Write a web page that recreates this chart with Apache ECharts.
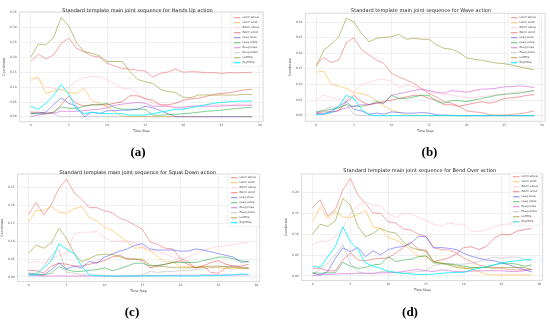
<!DOCTYPE html>
<html><head><meta charset="utf-8">
<script src="https://cdn.jsdelivr.net/npm/echarts@6/dist/echarts.min.js"></script>
<style>html,body{margin:0;padding:0;background:#fff}#c{width:550px;height:323px}</style>
</head><body><div id="c"></div>
<script>
const timeSteps = [0,1,2,3,4,5,6,7,8,9,10,11,12,13,14,15,16,17,18,19,20,21,22,23,24,25,26,27,28,29];
const jointNames = ['LArm elbow','LArm wrist','RArm elbow','RArm wrist','LLeg knee','LLeg ankle','RLeg knee','RLeg ankle','LeftHip','RightHip'];
const panelTitles = [
  'Standard template main joint sequence for Hands Up action',
  'Standard template main joint sequence for Wave action',
  'Standard template main joint sequence for Squat Down action',
  'Standard template main joint sequence for Bend Over action'
];
const panelLabels = ['(a)','(b)','(c)','(d)'];
const xTickValues = [0,5,10,15,20,25,30];
const yTicksA = [0,0.05,0.10,0.15,0.20,0.25,0.30,0.35];
const yTicksB = [0,0.05,0.10,0.15,0.20,0.25,0.30];
const yTicksC = [0,0.05,0.10,0.15,0.20,0.25];
const yTicksD = [0,0.05,0.10,0.15,0.20];

// (a) Hands Up
const handsUpLArmElbow = [0.185,0.209,0.194,0.207,0.246,0.263,0.229,0.218,0.204,0.2,0.179,0.17,0.162,0.159,0.156,0.153,0.133,0.145,0.15,0.16,0.149,0.151,0.15,0.147,0.148,0.145,0.148,0.147,0.148,0.149];
const handsUpLArmWrist = [0.129,0.131,0.078,0.087,0.092,0.081,0.078,0.095,0.054,0.045,0.034,0.017,0.002,0,0,0,0,0,0,0,0,0,0,0,0,0,0,0,0,0];
const handsUpRArmElbow = [0.12,0.13,0.10,0.095,0.09,0.10,0.12,0.13,0.135,0.133,0.125,0.11,0.095,0.095,0.08,0.06,0.045,0.04,0.035,0.035,0.035,0.035,0.038,0.04,0.04,0.04,0.04,0.042,0.042,0.042];
const handsUpRArmWrist = [0.015,0.015,0.012,0.015,0.04,0.07,0.045,0.035,0.04,0.04,0.04,0.045,0.05,0.07,0.07,0.06,0.055,0.04,0.04,0.045,0.055,0.06,0.062,0.068,0.075,0.078,0.08,0.085,0.09,0.092];
const handsUpLLegKnee = [0.01,0.012,0.015,0.04,0.063,0.045,0.035,0.0,0.015,0.01,0.02,0.02,0.022,0.022,0.025,0.035,0.03,0.02,0.01,0,0,0,0,0,0,0,0,0,0,0];
const handsUpLLegAnkle = [0.01,0.01,0.01,0.015,0.033,0.028,0.028,0.035,0.04,0.04,0.045,0.03,0.025,0.025,0.025,0.025,0.005,0.005,0.007,0.008,0.01,0.012,0.015,0.018,0.02,0.022,0.025,0.028,0.03,0.032];
const handsUpRLegKnee = [0.0,0.005,0.01,0.012,0.018,0.018,0.018,0.02,0.023,0.025,0.03,0.038,0.042,0.045,0.048,0.045,0.035,0.035,0.035,0.03,0.03,0.035,0.035,0.035,0.035,0.036,0.037,0.038,0.038,0.038];
const handsUpRLegAnkle = [0.015,0.012,0.01,0.01,0,0,0,0,0,0,0,0,0,0,0,0,0,0,0,0,0,0,0,0,0,0,0,0,0,0];
const handsUpLeftHip = [0.199,0.243,0.241,0.265,0.333,0.304,0.248,0.218,0.213,0.204,0.185,0.185,0.185,0.151,0.125,0.117,0.112,0.092,0.084,0.081,0.065,0.064,0.073,0.073,0.072,0.073,0.072,0.073,0.075,0.074];
const handsUpRightHip = [0.035,0.025,0.045,0.07,0.108,0.075,0.025,0.01,0.015,0.012,0.01,0.01,0.01,0.005,0.005,0.005,0.01,0.015,0.02,0.025,0.025,0.03,0.035,0.04,0.045,0.048,0.05,0.052,0.052,0.053];

// (b) Wave
const waveLArmElbow = [0.164,0.186,0.169,0.178,0.233,0.249,0.212,0.194,0.178,0.167,0.135,0.124,0.114,0.103,0.087,0.07,0.06,0.045,0.04,0.03,0.015,0.012,0.01,0.003,0.002,0.002,0.004,0.006,0.01,0.015];
const waveLArmWrist = [0.139,0.142,0.10,0.095,0.087,0.073,0.071,0.063,0.047,0.031,0.018,0.01,0.002,0.001,0.001,0,0,0,0,0,0,0,0,0,0,0,0,0,0,0];
const waveRArmElbow = [0.05,0.066,0.058,0.052,0.05,0.077,0.098,0.105,0.114,0.117,0.109,0.09,0.098,0.093,0.082,0.077,0.071,0.068,0.066,0.061,0.058,0.058,0.061,0.064,0.067,0.071,0.073,0.076,0.077,0.077];
const waveRArmWrist = [0.01,0.012,0.012,0.015,0.045,0.065,0.045,0.035,0.04,0.045,0.05,0.055,0.06,0.065,0.065,0.055,0.05,0.035,0.035,0.03,0.035,0.04,0.045,0.04,0.045,0.055,0.057,0.06,0.065,0.067];
const waveLLegKnee = [0.008,0.005,0.015,0.03,0.045,0.02,0.015,0.005,0.008,0.005,0.012,0.01,0.008,0.008,0.01,0.008,0.003,0.002,0.001,0,0,0,0,0,0,0,0,0,0,0];
const waveLLegAnkle = [0.013,0.016,0.02,0.025,0.035,0.03,0.03,0.035,0.045,0.04,0.065,0.055,0.055,0.06,0.065,0.065,0.045,0.04,0.048,0.048,0.045,0.05,0.055,0.06,0.065,0.068,0.07,0.072,0.076,0.081];
const waveRLegKnee = [0.005,0.005,0.01,0.018,0.025,0.03,0.035,0.035,0.04,0.04,0.065,0.07,0.075,0.08,0.085,0.08,0.075,0.072,0.08,0.078,0.075,0.08,0.085,0.085,0.088,0.092,0.093,0.095,0.093,0.09];
const waveRLegAnkle = [0.01,0.018,0.028,0.025,0.035,0.005,0,0,0,0,0,0,0,0,0,0,0,0,0,0,0,0,0,0,0,0,0,0,0,0];
const waveLeftHip = [0.156,0.21,0.228,0.252,0.311,0.30,0.263,0.236,0.247,0.25,0.252,0.26,0.244,0.247,0.244,0.244,0.226,0.215,0.212,0.202,0.185,0.18,0.177,0.172,0.168,0.166,0.162,0.156,0.151,0.147];
const waveRightHip = [0.003,0.005,0.01,0.03,0.065,0.055,0.02,0.003,0,0,0,0,0,0,0,0,0,0,0,0,0,0,0,0,0,0,0,0,0,0];

// (c) Squat Down
const squatLArmElbow = [0.175,0.209,0.173,0.203,0.248,0.274,0.236,0.217,0.194,0.194,0.185,0.18,0.164,0.157,0.145,0.133,0.098,0.091,0.08,0.078,0.051,0.042,0.025,0.03,0.012,0.01,0.025,0.03,0.025,0.025];
const squatLArmWrist = [0.153,0.187,0.185,0.198,0.181,0.178,0.191,0.197,0.166,0.157,0.138,0.13,0.114,0.098,0.08,0.082,0.073,0.056,0.042,0.042,0.028,0.028,0.026,0.03,0.026,0.026,0.023,0.022,0.024,0.024];
const squatRArmElbow = [0.04,0.042,0.038,0.05,0.06,0.065,0.12,0.125,0.125,0.127,0.11,0.1,0.1,0.1,0.095,0.085,0.075,0.07,0.065,0.055,0.05,0.055,0.065,0.075,0.08,0.085,0.088,0.09,0.095,0.095];
const squatRArmWrist = [0.018,0.017,0.01,0.03,0.038,0.035,0.03,0.03,0.035,0.04,0.045,0.055,0.06,0.05,0.05,0.045,0.025,0.03,0.035,0.04,0.045,0.035,0.025,0.03,0.04,0.045,0.035,0.03,0.03,0.035];
const squatLLegKnee = [0.008,0.005,0.005,0.02,0.038,0.022,0.03,0.025,0.043,0.038,0.055,0.063,0.072,0.078,0.088,0.093,0.078,0.075,0.075,0.075,0.072,0.072,0.078,0.075,0.07,0.065,0.06,0.055,0.04,0.043];
const squatLLegAnkle = [0.008,0.008,0.005,0.01,0.028,0.02,0.015,0.015,0.018,0.02,0.025,0.017,0.022,0.03,0.038,0.038,0.03,0.032,0.035,0.04,0.04,0.04,0.04,0.045,0.05,0.055,0.055,0.05,0.045,0.042];
const squatRLegKnee = [0.003,0.003,0.002,0.002,0.002,0.002,0.002,0.002,0.002,0.002,0.002,0.002,0.002,0.003,0.003,0.003,0.003,0.003,0.003,0.004,0.004,0.004,0.004,0.005,0.005,0.005,0.005,0.005,0.005,0.005];
const squatRLegAnkle = [0.01,0.01,0.03,0.06,0.075,0.012,0.01,0.005,0.005,0.005,0.003,0.002,0,0,0,0.005,0.015,0.012,0.015,0.015,0.017,0.018,0.02,0.022,0.025,0.028,0.03,0.03,0.028,0.025];
const squatLeftHip = [0.066,0.089,0.08,0.095,0.136,0.108,0.066,0.042,0.051,0.061,0.063,0.063,0.056,0.05,0.049,0.049,0.033,0.03,0.028,0.026,0.025,0.025,0.026,0.026,0.03,0.03,0.028,0.026,0.024,0.022];
const squatRightHip = [0.005,0.005,0.025,0.045,0.092,0.078,0.065,0.03,0.005,0.003,0.002,0.002,0.002,0.002,0.002,0.002,0.002,0.002,0.002,0.002,0.002,0.002,0.002,0.003,0.003,0.003,0.004,0.005,0.008,0.006];

// (d) Bend Over
const bendLArmElbow = [0.164,0.183,0.143,0.159,0.207,0.234,0.194,0.174,0.151,0.15,0.13,0.127,0.113,0.11,0.10,0.095,0.068,0.063,0.062,0.055,0.042,0.034,0.026,0.022,0.02,0.018,0.015,0.014,0.014,0.015];
const bendLArmWrist = [0.13,0.166,0.138,0.154,0.142,0.14,0.148,0.158,0.118,0.114,0.092,0.086,0.076,0.062,0.047,0.047,0.034,0.031,0.028,0.023,0.02,0.015,0.01,0.003,0.002,0.002,0.002,0.002,0.002,0.002];
const bendRArmElbow = [0.074,0.084,0.082,0.094,0.114,0.15,0.17,0.178,0.17,0.168,0.151,0.14,0.15,0.15,0.14,0.134,0.124,0.119,0.127,0.124,0.124,0.108,0.106,0.111,0.118,0.124,0.124,0.13,0.13,0.13];
const bendRArmWrist = [0.018,0.018,0.012,0.012,0.038,0.055,0.038,0.036,0.04,0.042,0.043,0.055,0.068,0.081,0.063,0.062,0.034,0.038,0.043,0.052,0.068,0.07,0.063,0.071,0.09,0.10,0.098,0.107,0.111,0.114];
const bendLLegKnee = [0.006,0.002,0.01,0.042,0.067,0.058,0.068,0.046,0.06,0.05,0.063,0.068,0.071,0.078,0.095,0.094,0.067,0.068,0.066,0.063,0.054,0.047,0.042,0.038,0.036,0.031,0.026,0.02,0.015,0.009];
const bendLLegAnkle = [0.007,0.006,0.007,0.007,0.032,0.023,0.018,0.02,0.026,0.028,0.046,0.034,0.038,0.039,0.046,0.048,0.031,0.03,0.028,0.026,0.023,0.02,0.02,0.02,0.026,0.03,0.03,0.028,0.023,0.026];
const bendRLegKnee = [0.0,0.002,0.003,0.004,0.005,0.005,0.006,0.006,0.006,0.007,0.007,0.008,0.01,0.013,0.015,0.012,0.01,0.014,0.012,0.01,0.01,0.011,0.012,0.012,0.012,0.012,0.01,0.01,0.012,0.015];
const bendRLegAnkle = [0.005,0.015,0.03,0.05,0.075,0.03,0.01,0.005,0.005,0.01,0.01,0.008,0.006,0.008,0.01,0.012,0.025,0.028,0.03,0.028,0.028,0.03,0.035,0.04,0.045,0.042,0.045,0.045,0.04,0.035];
const bendLeftHip = [0.10,0.124,0.119,0.132,0.186,0.17,0.118,0.094,0.102,0.114,0.106,0.103,0.082,0.068,0.063,0.058,0.034,0.03,0.026,0.02,0.018,0.018,0.02,0.02,0.018,0.02,0.02,0.02,0.02,0.015];
const bendRightHip = [0.023,0.02,0.046,0.07,0.118,0.082,0.063,0.031,0.023,0.018,0.011,0.008,0.006,0.004,0.003,0.003,0.004,0.006,0.007,0.008,0.008,0.014,0.018,0.022,0.026,0.031,0.034,0.036,0.038,0.039];

const panelSeries = [
  [handsUpLArmElbow,handsUpLArmWrist,handsUpRArmElbow,handsUpRArmWrist,handsUpLLegKnee,handsUpLLegAnkle,handsUpRLegKnee,handsUpRLegAnkle,handsUpLeftHip,handsUpRightHip],
  [waveLArmElbow,waveLArmWrist,waveRArmElbow,waveRArmWrist,waveLLegKnee,waveLLegAnkle,waveRLegKnee,waveRLegAnkle,waveLeftHip,waveRightHip],
  [squatLArmElbow,squatLArmWrist,squatRArmElbow,squatRArmWrist,squatLLegKnee,squatLLegAnkle,squatRLegKnee,squatRLegAnkle,squatLeftHip,squatRightHip],
  [bendLArmElbow,bendLArmWrist,bendRArmElbow,bendRArmWrist,bendLLegKnee,bendLLegAnkle,bendRLegKnee,bendRLegAnkle,bendLeftHip,bendRightHip]
];
const panelYTicks = [yTicksA,yTicksB,yTicksC,yTicksD];

// styling / layout
const colors = ['rgba(235,80,80,0.55)','rgba(255,170,20,0.55)','rgba(255,180,195,0.55)','rgba(225,40,40,0.5)',
  'rgba(40,40,255,0.5)','rgba(0,160,40,0.55)','rgba(200,40,200,0.5)','rgba(140,140,140,0.4)',
  'rgba(130,130,0,0.55)','rgba(0,240,255,0.9)'];
const layouts = [
  {left:19.6, right:263.1, top:12, bottom:121.7, ymin:-0.0168, ymax:0.351, tx:132.5, ty:3.5, lx:231, ly:14, px:133, py:141},
  {left:305.4, right:545.1, top:13.3, bottom:121.3, ymin:-0.018, ymax:0.327, tx:416, ty:3.5, lx:508, ly:14, px:424.5, py:141},
  {left:17.3, right:259.7, top:174, bottom:281.6, ymin:-0.0137, ymax:0.2885, tx:132.7, ty:165, lx:228, ly:174, px:127, py:301},
  {left:301.7, right:542.7, top:174, bottom:280.6, ymin:-0.0117, ymax:0.245, tx:414.7, ty:163.5, lx:510, ly:173, px:405, py:301}
];
const grids=[], xAxes=[], yAxes=[], series=[], legends=[], titles=[];
layouts.forEach((L,p)=>{
  grids.push({left:L.left, top:L.top, width:L.right-L.left, height:L.bottom-L.top, show:true, borderColor:'#cfcfcf', borderWidth:0.8, backgroundColor:'#fff'});
  xAxes.push({type:'value', gridIndex:p, min:-1.45, max:30.45, name:'Time Step', nameLocation:'middle', nameGap:8,
    nameTextStyle:{fontSize:3.3, color:'#333', fontFamily:'DejaVu Sans'},
    axisLine:{show:false}, axisTick:{show:false, customValues:xTickValues},
    axisLabel:{customValues:xTickValues, fontSize:3, color:'#555', margin:2, fontFamily:'DejaVu Sans'},
    splitLine:{show:true, lineStyle:{color:'#e6e6e6', width:0.6}}});
  yAxes.push({type:'value', gridIndex:p, min:L.ymin, max:L.ymax, name:'Coordinate', nameLocation:'middle', nameGap:12, nameRotate:90,
    nameTextStyle:{fontSize:3.3, color:'#333', fontFamily:'DejaVu Sans'},
    axisLine:{show:false}, axisTick:{show:false, customValues:panelYTicks[p]},
    axisLabel:{customValues:panelYTicks[p], fontSize:3, color:'#555', margin:3, fontFamily:'DejaVu Sans', formatter:v=>v.toFixed(2)},
    splitLine:{show:true, lineStyle:{color:'#e6e6e6', width:0.6}}});
  panelSeries[p].forEach((vals,k)=>{
    series.push({type:'line', name:jointNames[k], xAxisIndex:p, yAxisIndex:p, showSymbol:false, symbol:'none', silent:true,
      data: timeSteps.map((t,i)=>[t, vals[i]]), lineStyle:{color:colors[k], width:0.9}, itemStyle:{color:colors[k]}, z:2+k});
  });
  legends.push({data:jointNames, orient:'vertical', left:L.lx, top:L.ly, itemWidth:6.5, itemHeight:1.2, itemGap:1.6, icon:'rect',
    padding:[2,3,2,3], backgroundColor:'rgba(255,255,255,0.85)', borderColor:'#e0e0e0', borderWidth:0.5, borderRadius:1,
    textStyle:{fontSize:2.8, lineHeight:3.4, color:'#444', fontFamily:'DejaVu Sans', padding:[0,0,0,-3]}, selectedMode:false});
  titles.push({text:panelTitles[p], left:L.tx, top:L.ty, textAlign:'center', textStyle:{fontSize:5, fontWeight:'normal', color:'#222', fontFamily:'DejaVu Sans'}});
  titles.push({text:panelLabels[p], left:L.px, top:L.py, textAlign:'center', textStyle:{fontSize:13, fontWeight:'bold', color:'#000', fontFamily:'Liberation Serif'}});
});
const chart = echarts.init(document.getElementById('c'), null, {renderer:'canvas'});
chart.setOption({backgroundColor:'#fff', animation:false, title:titles, grid:grids, xAxis:xAxes, yAxis:yAxes, legend:legends, series:series});
</script></body></html>
